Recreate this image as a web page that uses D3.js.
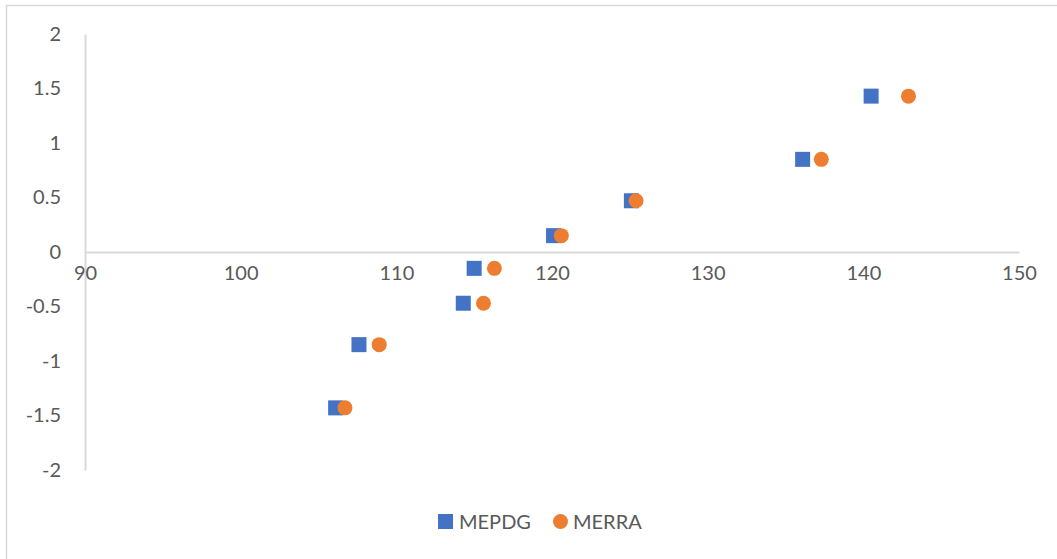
<!DOCTYPE html>
<html>
<head>
<meta charset="utf-8">
<script src="https://cdn.jsdelivr.net/npm/d3@7"></script>
<style>
  html, body { margin: 0; padding: 0; background: #fff; }
  svg { display: block; }
  text { font-family: Lato, "Open Sans", sans-serif; fill: #595959; }
</style>
</head>
<body>
<svg id="chart" width="1057" height="559"></svg>
<script>
const seriesNames = ["MEPDG", "MERRA"];
const seriesColors = ["#4472C4", "#ED7D31"];
const zValues = [1.43, 0.85, 0.47, 0.15, -0.15, -0.47, -0.85, -1.43];
const mepdgX = [140.5, 136.1, 125.1, 120.1, 115.0, 114.3, 107.6, 106.1];
const merraX = [142.9, 137.3, 125.4, 120.6, 116.3, 115.6, 108.9, 106.7];
const xTicks = [90, 100, 110, 120, 130, 140, 150];
const yTicks = [-2, -1.5, -1, -0.5, 0, 0.5, 1, 1.5, 2];

const svg = d3.select("#chart");

// outer chart border
svg.append("rect")
  .attr("x", 6.5).attr("y", 5.5)
  .attr("width", 1100).attr("height", 600)
  .attr("fill", "none").attr("stroke", "#d9d9d9").attr("stroke-width", 1.5);

const x = d3.scaleLinear().domain([90, 150]).range([85, 1019]);
const y = d3.scaleLinear().domain([-2, 2]).range([470, 34]);

// y axis at x = 90
const yAxis = d3.axisLeft(y).tickValues(yTicks).tickSize(0).tickPadding(24)
  .tickFormat(d => String(d));
const gy = svg.append("g").attr("transform", `translate(${x(90)},0)`).call(yAxis);
gy.select(".domain").attr("stroke", "#d9d9d9").attr("stroke-width", 2);
gy.selectAll("text").attr("font-size", 20).style("fill", "#595959")
  .attr("font-family", "Lato, 'Open Sans', sans-serif");

// x axis at y = 0
const xAxis = d3.axisBottom(x).tickValues(xTicks).tickSize(0).tickPadding(14)
  .tickFormat(d => String(d));
const gx = svg.append("g").attr("transform", `translate(0,${y(0)})`).call(xAxis);
gx.select(".domain").attr("stroke", "#d9d9d9").attr("stroke-width", 2);
gx.selectAll("text").attr("font-size", 20).style("fill", "#595959")
  .attr("font-family", "Lato, 'Open Sans', sans-serif");

const mepdg = mepdgX.map((v, i) => ({ x: v, y: zValues[i] }));
const merra = merraX.map((v, i) => ({ x: v, y: zValues[i] }));
const sz = 15;

svg.append("g").selectAll("rect").data(mepdg).join("rect")
  .attr("x", d => x(d.x) - sz / 2).attr("y", d => y(d.y) - sz / 2)
  .attr("width", sz).attr("height", sz)
  .attr("fill", seriesColors[0]);

svg.append("g").selectAll("circle").data(merra).join("circle")
  .attr("cx", d => x(d.x)).attr("cy", d => y(d.y)).attr("r", sz / 2)
  .attr("fill", seriesColors[1]);

// legend
const lg = svg.append("g");
lg.append("rect").attr("x", 438).attr("y", 514).attr("width", 15).attr("height", 15)
  .attr("fill", seriesColors[0]);
lg.append("text").attr("x", 459).attr("y", 528.5).attr("font-size", 20).text(seriesNames[0]);
lg.append("circle").attr("cx", 560.5).attr("cy", 521.5).attr("r", 7.5)
  .attr("fill", seriesColors[1]);
lg.append("text").attr("x", 573).attr("y", 528.5).attr("font-size", 20).text(seriesNames[1]);
</script>
</body>
</html>
